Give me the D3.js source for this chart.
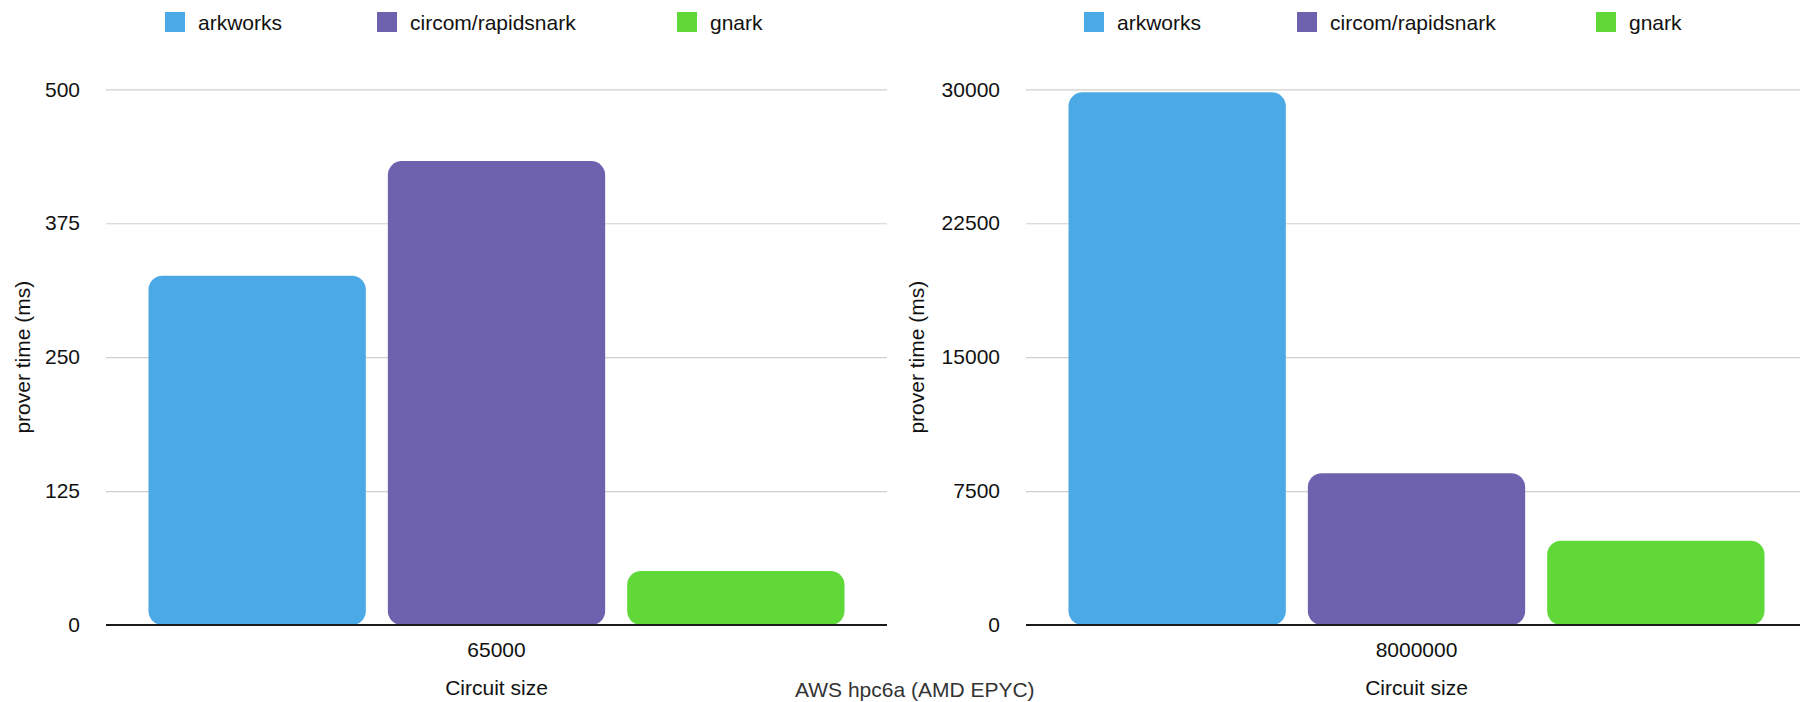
<!DOCTYPE html>
<html>
<head>
<meta charset="utf-8">
<script src="https://cdn.jsdelivr.net/npm/d3@7"></script>
<style>
  html, body { margin: 0; padding: 0; background: #fff; }
  svg { display: block; font-family: "Liberation Sans", Arial, Helvetica, sans-serif; }
</style>
</head>
<body>
<svg id="chart" width="1800" height="702"></svg>
<script>
// ---- data ----
const series = ["arkworks", "circom/rapidsnark", "gnark"];
const seriesColors = ["#4BAAE6", "#6E62AF", "#5FD838"];

const leftCategories = ["65000"];
const leftValues = [326, 433, 50.5];          // prover time (ms)
const leftTicks = [0, 125, 250, 375, 500];

const rightCategories = ["8000000"];
const rightValues = [29830, 8500, 4720];      // prover time (ms)
const rightTicks = [0, 7500, 15000, 22500, 30000];

const yTitle = "prover time (ms)";
const xTitle = "Circuit size";
const footnote = "AWS hpc6a (AMD EPYC)";

// ---- drawing ----
const svg = d3.select("#chart");
const plotTop = 89.3, plotBottom = 625;
const fontSize = 21;

function panel(opts) {
  const g = svg.append("g");
  const x0 = d3.scaleBand().domain(opts.categories).range([opts.x0, opts.x1]).padding(0);
  const inset = 42.5;
  const x1 = d3.scaleBand().domain(series)
    .range([inset, x0.bandwidth() - inset]).paddingInner(0.092).paddingOuter(0);
  const y = d3.scaleLinear().domain([0, d3.max(opts.ticks)]).range([plotBottom, plotTop]);
  const color = d3.scaleOrdinal().domain(series).range(seriesColors);

  // gridlines + tick labels
  const axis = d3.axisLeft(y).tickValues(opts.ticks)
    .tickSize(-(opts.x1 - opts.x0)).tickPadding(26).tickFormat(d3.format("d"));
  const ag = g.append("g").attr("transform", `translate(${opts.x0},0)`).call(axis);
  ag.select(".domain").remove();
  ag.selectAll(".tick line").attr("stroke", "#d0d0d0").attr("stroke-width", 1.2);
  ag.selectAll(".tick text").attr("fill", "#111").attr("font-size", fontSize)
    .attr("font-family", "Liberation Sans, Arial, sans-serif");

  // bars
  const groups = g.selectAll("g.cat").data(opts.categories).join("g")
    .attr("class", "cat").attr("transform", d => `translate(${x0(d)},0)`);
  groups.selectAll("rect").data(() => series.map((s, i) => ({ s, v: opts.values[i] })))
    .join("rect")
    .attr("x", d => x1(d.s)).attr("width", x1.bandwidth())
    .attr("y", d => y(d.v)).attr("height", d => y(0) - y(d.v))
    .attr("rx", 14).attr("ry", 14)
    .attr("fill", d => color(d.s));

  // zero baseline
  g.append("line").attr("x1", opts.x0).attr("x2", opts.x1)
    .attr("y1", y(0)).attr("y2", y(0)).attr("stroke", "#1a1a1a").attr("stroke-width", 2.2);

  // x tick labels
  const xa = d3.axisBottom(x0).tickSize(0).tickPadding(0);
  const xg = g.append("g").attr("transform", `translate(0,${y(0)})`).call(xa);
  xg.select(".domain").remove();
  xg.selectAll(".tick text").attr("y", 0).attr("dy", 0)
    .attr("transform", "translate(0,32)")
    .attr("font-size", fontSize).attr("fill", "#111")
    .attr("font-family", "Liberation Sans, Arial, sans-serif");

  // x title
  g.append("text").attr("x", (opts.x0 + opts.x1) / 2).attr("y", 695)
    .attr("text-anchor", "middle").attr("font-size", fontSize).attr("fill", "#111")
    .text(xTitle);

  // y title
  g.append("text")
    .attr("transform", `translate(${opts.yTitleX},${(plotTop + plotBottom) / 2}) rotate(-90)`)
    .attr("text-anchor", "middle").attr("font-size", fontSize).attr("fill", "#111")
    .text(yTitle);

  // legend
  const lg = g.selectAll("g.leg").data(series).join("g").attr("class", "leg")
    .attr("transform", (d, i) => `translate(${opts.legendX[i]},12)`);
  lg.append("rect").attr("width", 20).attr("height", 20).attr("fill", d => color(d));
  lg.append("text").attr("x", 33).attr("y", 17.5).attr("font-size", fontSize)
    .attr("fill", "#111").text(d => d);
}

panel({ categories: leftCategories, values: leftValues, ticks: leftTicks,
        x0: 106, x1: 887, yTitleX: 30, legendX: [165, 377, 677] });
panel({ categories: rightCategories, values: rightValues, ticks: rightTicks,
        x0: 1026, x1: 1807, yTitleX: 924, legendX: [1084, 1297, 1596] });

svg.append("text").attr("x", 795).attr("y", 697).attr("font-size", fontSize)
  .attr("fill", "#333").text(footnote);
</script>
</body>
</html>
